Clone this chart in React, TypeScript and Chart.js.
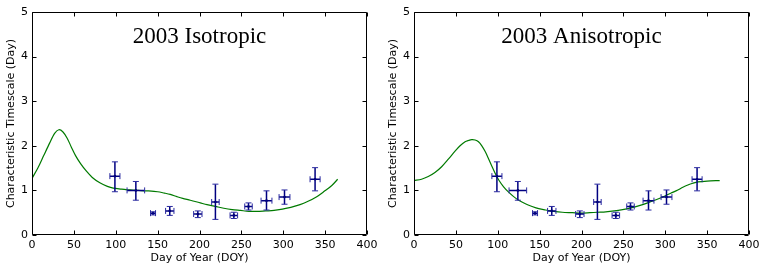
import React, { useEffect, useRef } from 'react';
import { Chart, registerables } from 'chart.js';

Chart.register(...registerables);

// Observations (same in both panels)
const DOY = [99, 124, 144.5, 164.5, 198, 219, 241, 258.5, 280, 301.5, 338];
const TIMESCALE = [1.32, 1.0, 0.49, 0.54, 0.47, 0.74, 0.44, 0.64, 0.77, 0.85, 1.25];
const Y_LOW = [0.97, 0.78, 0.45, 0.44, 0.39, 0.35, 0.37, 0.56, 0.56, 0.69, 0.99];
const Y_HIGH = [1.64, 1.2, 0.52, 0.64, 0.54, 1.14, 0.51, 0.72, 0.99, 1.01, 1.51];
const X_ERR = [6, 10.5, 3, 5, 5, 4.5, 4.5, 4.5, 6.5, 6.5, 6];

// Model curves
const ISO_X = [0, 7, 14, 21, 27, 32, 37, 42, 47, 52, 58, 65, 72, 81, 90, 97, 107, 117, 127, 137, 150, 158, 165, 173, 180, 189, 201, 209, 219, 229, 239, 249, 259, 269, 279, 289, 299, 309, 320, 329, 340, 349, 358, 365];
const ISO_Y = [1.27, 1.5, 1.78, 2.06, 2.28, 2.36, 2.31, 2.17, 1.97, 1.78, 1.6, 1.43, 1.29, 1.17, 1.09, 1.05, 1.03, 1.01, 1.0, 0.99, 0.97, 0.94, 0.91, 0.86, 0.82, 0.78, 0.72, 0.68, 0.64, 0.6, 0.57, 0.55, 0.53, 0.53, 0.54, 0.55, 0.58, 0.62, 0.68, 0.75, 0.86, 0.98, 1.11, 1.25];

const ANISO_X = [0, 9, 17, 25, 33, 41, 49, 55, 61, 65, 69, 73, 77, 81, 85, 89, 93, 97, 101, 107, 113, 119, 125, 133, 141, 149, 157, 167, 177, 189, 200, 210, 219, 229, 239, 249, 259, 269, 279, 289, 299, 307, 315, 321, 327, 333, 339, 350, 365];
const ANISO_Y = [1.22, 1.25, 1.31, 1.4, 1.53, 1.7, 1.88, 2.0, 2.09, 2.12, 2.14, 2.13, 2.09, 2.0, 1.87, 1.71, 1.54, 1.38, 1.24, 1.08, 0.96, 0.86, 0.78, 0.7, 0.64, 0.59, 0.56, 0.53, 0.51, 0.5, 0.49, 0.5, 0.51, 0.52, 0.54, 0.57, 0.61, 0.66, 0.72, 0.79, 0.87, 0.94, 1.01, 1.07, 1.12, 1.16, 1.19, 1.21, 1.22];

const X_TICKS = [0, 50, 100, 150, 200, 250, 300, 350, 400];
const Y_TICKS = [0, 1, 2, 3, 4, 5];

const NAVY = '#000080';
const GREEN = '#007a00';
const FONT = 'DejaVu Sans';

function makePlugin(title: string) {
  return {
    id: 'frameAndBars',
    afterDatasetsDraw(chart: any) {
      const ctx = chart.ctx;
      const xs = chart.scales.x;
      const ys = chart.scales.y;
      ctx.save();
      for (let i = 0; i < DOY.length; i++) {
        const px = xs.getPixelForValue(DOY[i]);
        const py = ys.getPixelForValue(TIMESCALE[i]);
        const ylo = ys.getPixelForValue(Y_LOW[i]);
        const yhi = ys.getPixelForValue(Y_HIGH[i]);
        const xl = xs.getPixelForValue(DOY[i] - X_ERR[i]);
        const xr = xs.getPixelForValue(DOY[i] + X_ERR[i]);
        ctx.strokeStyle = NAVY;
        ctx.lineWidth = 1.5;
        ctx.beginPath();
        ctx.moveTo(px, ylo);
        ctx.lineTo(px, yhi);
        ctx.moveTo(xl, py);
        ctx.lineTo(xr, py);
        ctx.stroke();
        ctx.lineWidth = 1;
        ctx.strokeStyle = '#2a2aa0';
        ctx.beginPath();
        ctx.moveTo(px - 3, ylo);
        ctx.lineTo(px + 3, ylo);
        ctx.moveTo(px - 3, yhi);
        ctx.lineTo(px + 3, yhi);
        ctx.moveTo(xl, py - 3);
        ctx.lineTo(xl, py + 3);
        ctx.moveTo(xr, py - 3);
        ctx.lineTo(xr, py + 3);
        ctx.stroke();
      }
      ctx.restore();
    },
    afterDraw(chart: any) {
      const ctx = chart.ctx;
      const { left, right, top, bottom } = chart.chartArea;
      const xs = chart.scales.x;
      const ys = chart.scales.y;
      ctx.save();
      ctx.strokeStyle = '#000';
      ctx.lineWidth = 1;
      ctx.beginPath();
      const L = Math.round(left) + 0.5;
      const R = Math.round(right) - 0.5;
      const T = Math.round(top) + 0.5;
      const B = Math.round(bottom) - 0.5;
      ctx.rect(L, T, R - L, B - T);
      const tl = 4;
      X_TICKS.forEach((v) => {
        const p = Math.round(xs.getPixelForValue(v)) + 0.5;
        ctx.moveTo(p, B);
        ctx.lineTo(p, B - tl);
        ctx.moveTo(p, T);
        ctx.lineTo(p, T + tl);
      });
      Y_TICKS.forEach((v) => {
        const p = Math.round(ys.getPixelForValue(v)) + 0.5;
        ctx.moveTo(L, p);
        ctx.lineTo(L + tl, p);
        ctx.moveTo(R, p);
        ctx.lineTo(R - tl, p);
      });
      ctx.stroke();
      ctx.fillStyle = '#000';
      ctx.font = '23px "Liberation Serif"';
      ctx.textAlign = 'center';
      ctx.textBaseline = 'alphabetic';
      ctx.fillText(title, (left + right) / 2, top + 31);
      ctx.restore();
    },
  };
}

function Panel({ title, curveX, curveY, left }: { title: string; curveX: number[]; curveY: number[]; left: number }) {
  const ref = useRef<HTMLCanvasElement>(null);
  useEffect(() => {
    if (!ref.current) return;
    const chart = new Chart(ref.current, {
      type: 'scatter',
      data: {
        datasets: [
          {
            label: 'model',
            data: curveX.map((x, i) => ({ x, y: curveY[i] })),
            showLine: true,
            borderColor: GREEN,
            borderWidth: 1.2,
            pointRadius: 0,
            tension: 0.3,
            fill: false,
          },
          {
            label: 'obs',
            data: DOY.map((x, i) => ({ x, y: TIMESCALE[i] })),
            showLine: false,
            pointRadius: 1.3,
            pointBackgroundColor: '#000030',
            pointBorderColor: '#000030',
            pointBorderWidth: 0,
          },
        ],
      },
      options: {
        animation: false,
        responsive: false,
        maintainAspectRatio: false,
        events: [],
        layout: { padding: { left: 0, right: 15, top: 12, bottom: 0 } },
        plugins: { legend: { display: false }, tooltip: { enabled: false }, title: { display: false } },
        scales: {
          x: {
            type: 'linear',
            min: 0,
            max: 400,
            afterBuildTicks: (s: any) => {
              s.ticks = X_TICKS.map((v) => ({ value: v }));
            },
            afterFit: (s: any) => {
              s.height = 36;
            },
            ticks: { color: '#000', font: { family: FONT, size: 11 }, padding: 4, maxRotation: 0, autoSkip: false },
            grid: { display: false, drawTicks: false },
            border: { display: false },
            title: {
              display: true,
              text: 'Day of Year (DOY)',
              color: '#000',
              font: { family: FONT, size: 11 },
              padding: { top: 0, bottom: 6 },
            },
          },
          y: {
            type: 'linear',
            min: 0,
            max: 5,
            afterBuildTicks: (s: any) => {
              s.ticks = Y_TICKS.map((v) => ({ value: v }));
            },
            afterFit: (s: any) => {
              s.width = 32;
            },
            ticks: { color: '#000', font: { family: FONT, size: 11 }, padding: 4, autoSkip: false },
            grid: { display: false, drawTicks: false },
            border: { display: false },
            title: {
              display: true,
              text: 'Characteristic Timescale (Day)',
              color: '#000',
              font: { family: FONT, size: 11 },
              padding: { top: 5, bottom: 0 },
            },
          },
        },
      },
      plugins: [makePlugin(title)],
    } as any);
    return () => chart.destroy();
  }, []);
  return (
    <div style={{ position: 'absolute', left, top: 0, width: 382, height: 271 }}>
      <canvas ref={ref} width={382} height={271} style={{ width: 382, height: 271 }} />
    </div>
  );
}

export default function App() {
  return (
    <div style={{ position: 'fixed', left: 0, top: 0, width: 764, height: 271, background: '#fff' }}>
      <Panel title="2003 Isotropic" curveX={ISO_X} curveY={ISO_Y} left={0} />
      <Panel title="2003 Anisotropic" curveX={ANISO_X} curveY={ANISO_Y} left={382} />
    </div>
  );
}
